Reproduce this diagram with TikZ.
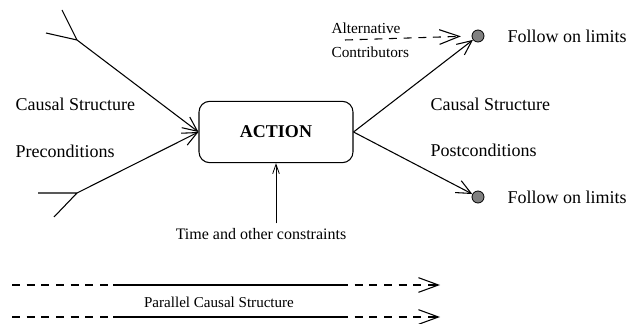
\documentclass[tikz,border=0pt]{standalone}
\usepackage{fontspec}
\setmainfont{Liberation Serif}
\usetikzlibrary{positioning,arrows.meta}

\begin{document}
\begin{tikzpicture}[%
    x=0.75pt,
    y=-0.75pt,
    line width=0.8pt,
    >={Straight Barb[length=11pt,width=10pt]},
    font=\fontsize{13.5}{16}\selectfont,
    actbox/.style={%
      rectangle,
      rounded corners=8pt,
      minimum width=115.5pt,
      minimum height=46pt,
      draw
    },
    limit/.style={%
      circle,
      inner sep=0pt,
      minimum size=9pt,
      fill=gray,
      line width=0.6pt,
      draw
    },
    lbl/.style={anchor=west, inner sep=0pt},
    small/.style={font=\fontsize{11.5}{13}\selectfont},
    dashline/.style={dash pattern=on 6pt off 5pt},
    bigtip/.style={-{Straight Barb[length=15pt,width=11pt]}}
  ]
    \useasboundingbox (0,0) rectangle (639,324);

    \node[actbox] (action) at (276,132)                {\textbf{ACTION}};
    \node[limit] (upper) at (478,36)                   {};
    \node[limit] (lower) at (478,197)                  {};

    % preconditions coming in
    \coordinate (intop) at (77,40);
    \coordinate (inbot) at (77,193);
    \draw[->] (intop) -- (action.west);
    \draw[->] (inbot) -- (action.west);
    \draw (intop) -- (62,10)  (intop) -- (46,33);
    \draw (inbot) -- (38,193) (inbot) -- (54,217);

    % postconditions going out
    \draw[->] (action.east) -- (upper);
    \draw[->] (action.east) -- (lower);

    % alternative contributors
    \coordinate (alt) at (345,40);
    \draw[dashline, bigtip, shorten >=8pt] (alt) -- (upper.west);

    % constraints
    \node[font=\fontsize{12}{14}\selectfont] (time) at (261,234) {Time and other constraints};
    \draw[line width=0.6pt, -{Straight Barb[length=7pt,width=5pt]}] (time.north -| action) -- (action.south);

    \node[lbl] (cs1) at (15,104)  {Causal Structure};
    \node[lbl] (pre) at (15,151)  {Preconditions};
    \node[lbl] (cs2) at (430,104) {Causal Structure};
    \node[lbl] (post) at (430,150) {Postconditions};
    \node[lbl, right=17pt of upper] (fol1) {Follow on limits};
    \node[lbl, right=17pt of lower] (fol2) {Follow on limits};
    \node[lbl, small] (alt1) at (331,28) {Alternative};
    \node[lbl, small] (alt2) at (331,52) {Contributors};

    % parallel structure
    \foreach \name/\y in {pa/285, pb/317} {
      \coordinate (\name0) at (12,\y);
      \coordinate (\name1) at (113,\y);
      \coordinate (\name2) at (340,\y);
      \coordinate (\name3) at (440,\y);
      \draw[dashline] (\name0) -- (\name1);
      \draw (\name1) -- (\name2);
      \draw[dashline, bigtip] (\name2) -- (\name3);
    }
    \node[font=\fontsize{11.3}{13}\selectfont] (par) at (219,302) {Parallel Causal Structure};
\end{tikzpicture}
\end{document}
